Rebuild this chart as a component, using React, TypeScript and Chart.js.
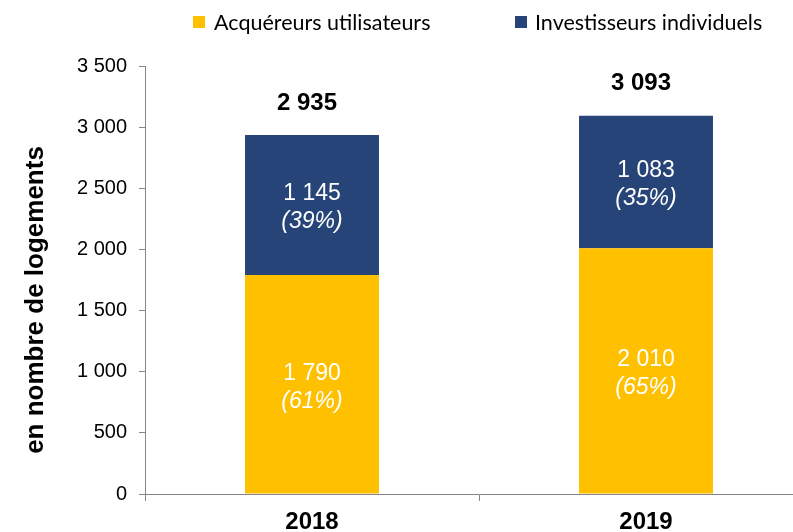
import React, { useEffect, useRef } from "react";
import { Chart, registerables } from "chart.js";

Chart.register(...registerables);

const categories = ["2018", "2019"];
const acquereurs = [1790, 2010];
const investisseurs = [1145, 1083];
const yTicks = [0, 500, 1000, 1500, 2000, 2500, 3000, 3500];
const seriesNames = ["Acquéreurs utilisateurs", "Investisseurs individuels"];
const seriesColors = ["#FFC000", "#264478"];
const yTitle = "en nombre de logements";

const FONT = "'Liberation Sans', Arial, sans-serif";
const fmt = (v: number) => String(v).replace(/\B(?=(\d{3})+(?!\d))/g, " ");

const labelPlugin = {
  id: "barLabels",
  afterDatasetsDraw(chart: any) {
    const ctx = chart.ctx;
    const totals = categories.map((_, i) => acquereurs[i] + investisseurs[i]);
    ctx.save();
    ctx.textAlign = "center";
    ctx.textBaseline = "middle";
    chart.data.datasets.forEach((ds: any, di: number) => {
      const meta = chart.getDatasetMeta(di);
      meta.data.forEach((el: any, i: number) => {
        const { x, y, base } = el.getProps(["x", "y", "base"], true);
        const cy = (y + base) / 2;
        const v = ds.data[i];
        const pct = Math.round((v / totals[i]) * 100);
        ctx.fillStyle = "#ffffff";
        ctx.font = "23px " + FONT;
        ctx.fillText(fmt(v), x, cy - 11);
        ctx.font = "italic 23px " + FONT;
        ctx.fillText("(" + pct + "%)", x, cy + 17);
        if (di === chart.data.datasets.length - 1) {
          ctx.fillStyle = "#000000";
          ctx.font = "bold 24px " + FONT;
          ctx.fillText(fmt(totals[i]), x - 5, y - 32);
        }
      });
    });
    // y-axis title
    ctx.save();
    ctx.translate(36, 300);
    ctx.rotate(-Math.PI / 2);
    ctx.fillStyle = "#000";
    ctx.font = "bold 26px " + FONT;
    ctx.fillText(yTitle, 0, 0);
    ctx.restore();
    ctx.restore();
  },
};

export default function App() {
  const ref = useRef<HTMLCanvasElement>(null);
  useEffect(() => {
    if (!ref.current) return;
    const chart = new Chart(ref.current, {
      type: "bar",
      data: {
        labels: categories,
        datasets: [
          { label: seriesNames[0], data: acquereurs, backgroundColor: seriesColors[0], barPercentage: 0.401, categoryPercentage: 1 },
          { label: seriesNames[1], data: investisseurs, backgroundColor: seriesColors[1], barPercentage: 0.401, categoryPercentage: 1 },
        ],
      },
      options: {
        animation: false,
        responsive: false,
        devicePixelRatio: 1,
        layout: { padding: { left: 0, right: 27, top: 66, bottom: 0 } },
        plugins: { legend: { display: false }, tooltip: { enabled: false } },
        scales: {
          x: {
            stacked: true,
            grid: { drawOnChartArea: false, offset: true, tickLength: 7, color: "#868686" },
            border: { color: "#868686" },
            ticks: { color: "#000", padding: 7, font: { family: FONT, size: 24, weight: "bold" } },
            afterFit: (s: any) => { s.height = 38; },
          },
          y: {
            stacked: true,
            min: 0,
            max: 3500,
            afterBuildTicks: (s: any) => { s.ticks = yTicks.map((v) => ({ value: v })); },
            grid: { drawOnChartArea: false, tickLength: 6, color: "#868686" },
            border: { color: "#868686" },
            ticks: { color: "#000", padding: 12, font: { family: FONT, size: 20 }, callback: (v: any) => fmt(Number(v)) },
            afterFit: (s: any) => { s.width = 145; },
          },
        },
      },
      plugins: [labelPlugin],
    });
    return () => chart.destroy();
  }, []);

  const legendText: React.CSSProperties = {
    position: "absolute",
    top: 9,
    fontFamily: "Lato, 'Open Sans', sans-serif",
    fontSize: 21.5,
    lineHeight: "26px",
    color: "#000",
    whiteSpace: "nowrap",
  };
  const box = (left: number, color: string): React.CSSProperties => ({
    position: "absolute",
    left,
    top: 16,
    width: 12,
    height: 12,
    background: color,
  });

  return (
    <div style={{ position: "fixed", left: 0, top: 0, width: 793, height: 532, overflow: "hidden", background: "#fff" }}>
      <canvas ref={ref} width={840} height={532} style={{ position: "absolute", left: 0, top: 0 }} />
      <div style={box(193, seriesColors[0])} />
      <div style={{ ...legendText, left: 214 }}>{seriesNames[0]}</div>
      <div style={box(515, seriesColors[1])} />
      <div style={{ ...legendText, left: 535 }}>{seriesNames[1]}</div>
    </div>
  );
}
